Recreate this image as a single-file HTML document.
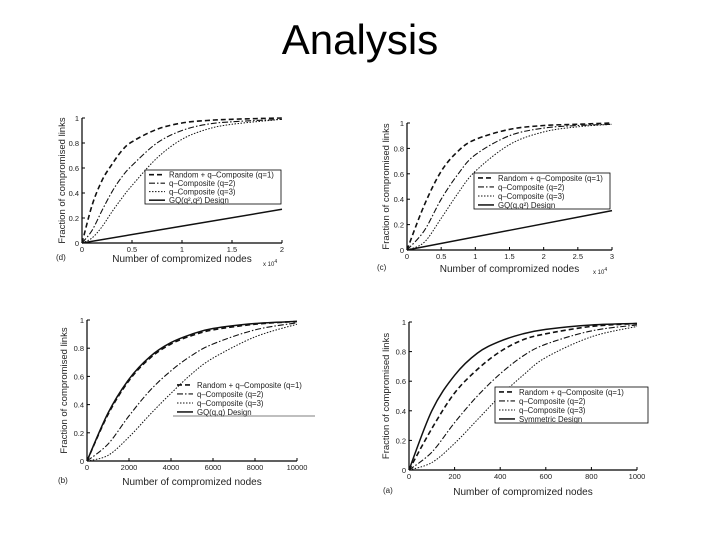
<!DOCTYPE html>
<html><head><meta charset="utf-8"><style>
html,body{margin:0;padding:0;background:#fff;}
#wrap{position:relative;width:720px;height:540px;overflow:hidden;font-family:"Liberation Sans",sans-serif;}
#title{position:absolute;left:0;width:720px;top:16px;text-align:center;font-size:42px;color:#000;}
svg{position:absolute;left:0;top:0;}
</style></head><body>
<div id="wrap">
<div id="title">Analysis</div>
<svg id="svg" width="720" height="540"></svg>
</div>
<script>
// ---- data: chart (d) top-left ----
const dX = [0,0.1,0.2,0.3,0.4,0.5,0.75,1,1.25,1.5,2];
const dQ1 = [0,0.3,0.5,0.63,0.74,0.81,0.91,0.96,0.98,0.99,1.0];
const dQ2 = [0,0.1,0.26,0.41,0.53,0.62,0.8,0.9,0.95,0.97,0.99];
const dQ3 = [0,0.04,0.13,0.25,0.36,0.46,0.68,0.83,0.91,0.95,0.99];
const dDesX = [0,2];
const dDes = [0,0.27];
const dTicks = ["0","0.5","1","1.5","2"];
// ---- data: chart (c) top-right ----
const cX = [0,0.25,0.5,0.75,1,1.5,2,2.5,3];
const cQ1 = [0,0.35,0.62,0.78,0.87,0.95,0.98,0.99,1];
const cQ2 = [0,0.15,0.4,0.6,0.75,0.9,0.96,0.98,0.99];
const cQ3 = [0,0.06,0.25,0.45,0.62,0.83,0.93,0.97,0.99];
const cDesX = [0,3];
const cDes = [0,0.31];
const cTicks = ["0","0.5","1","1.5","2","2.5","3"];
// ---- data: chart (b) bottom-left ----
const bX = [0,1000,2000,3000,4000,5000,6000,8000,10000];
const bQ1 = [0,0.33,0.57,0.73,0.83,0.89,0.93,0.97,0.99];
const bQ2 = [0,0.12,0.32,0.5,0.64,0.75,0.83,0.93,0.98];
const bQ3 = [0,0.04,0.17,0.33,0.48,0.62,0.73,0.88,0.97];
const bDes = [0,0.34,0.58,0.74,0.84,0.9,0.94,0.975,0.99];
const bTicks = ["0","2000","4000","6000","8000","10000"];
// ---- data: chart (a) bottom-right ----
const aX = [0,100,200,300,400,500,600,800,1000];
const aQ1 = [0,0.28,0.52,0.68,0.8,0.88,0.92,0.97,0.99];
const aQ2 = [0,0.12,0.32,0.5,0.65,0.77,0.85,0.94,0.98];
const aQ3 = [0,0.05,0.18,0.34,0.5,0.64,0.76,0.9,0.97];
const aDes = [0,0.4,0.64,0.79,0.87,0.92,0.95,0.98,0.99];
const aTicks = ["0","200","400","600","800","1000"];
const yTicks = ["0","0.2","0.4","0.6","0.8","1"];

const svg = document.getElementById('svg');
const NS = 'http://www.w3.org/2000/svg';
function mk(tag, attrs, name){
  const e = document.createElementNS(NS, tag);
  for (const k in attrs) e.setAttribute(k, attrs[k]);
  
  
  svg.appendChild(e); return e;
}
function txt(x,y,s,size,name,anchor,extra){
  const t = mk('text', Object.assign({x:x,y:y,'font-size':size,'text-anchor':anchor||'start','font-family':'Liberation Sans, sans-serif',fill:'#222'}, extra||{}), name);
  t.textContent = s; return t;
}
function smooth(p){
  let d = 'M'+p[0][0].toFixed(1)+','+p[0][1].toFixed(1);
  for (let i=0;i<p.length-1;i++){
    const p0=p[i-1]||p[i], p1=p[i], p2=p[i+1], p3=p[i+2]||p2;
    const c1=[p1[0]+(p2[0]-p0[0])/6, p1[1]+(p2[1]-p0[1])/6];
    const c2=[p2[0]-(p3[0]-p1[0])/6, p2[1]-(p3[1]-p1[1])/6];
    d+=' C'+c1[0].toFixed(1)+','+c1[1].toFixed(1)+' '+c2[0].toFixed(1)+','+c2[1].toFixed(1)+' '+p2[0].toFixed(1)+','+p2[1].toFixed(1);
  }
  return d;
}
const styles = {
  q1:{dash:'5,3',w:1.6},
  q2:{dash:'6,2,1.5,2',w:1.1},
  q3:{dash:'1.5,1.5',w:1},
  des:{dash:'',w:1.5}
};
function chart(cfg){
  const {L,R,T,B,xmax,ticks,series,letter,legend,legendLabels,legendStyle,xlab,ylabX,exp} = cfg;
  const sx = v => L + (R-L)*v/xmax;
  const sy = v => B - (B-T)*v;
  mk('line',{x1:L,y1:T,x2:L,y2:B,stroke:'#000','stroke-width':1.2}, letter+'-y-axis');
  mk('line',{x1:L,y1:B,x2:R,y2:B,stroke:'#000','stroke-width':1.2}, letter+'-x-axis');
  ticks.forEach((t,i)=>{
    const v = xmax*i/(ticks.length-1); const x = sx(v);
    mk('line',{x1:x,y1:B,x2:x,y2:B-3,stroke:'#000','stroke-width':1}, letter+'-x-tick');
    txt(x,B+9,t,7.5,letter+'-x-tick-label','middle');
  });
  yTicks.forEach((t,i)=>{
    const v = i/(yTicks.length-1); const y = sy(v);
    mk('line',{x1:L,y1:y,x2:L+3,y2:y,stroke:'#000','stroke-width':1}, letter+'-y-tick');
    txt(L-3,y+3,t,7.5,letter+'-y-tick-label','end');
  });
  series.forEach(s=>{
    const p = s.y.map((v,i)=>[sx(s.x[i]), sy(v)]);
    const st = styles[s.k];
    mk('path',{d:smooth(p),fill:'none',stroke:'#111','stroke-width':st.w,'stroke-dasharray':st.dash,'stroke-linejoin':'round'}, letter+'-series-'+s.k);
  });
  txt((L+R)/2, cfg.xlabY, xlab, 10, letter+'-x-axis-title','middle');
  const yl = txt(ylabX,(T+B)/2,'Fraction of compromised links',9.5,letter+'-y-axis-title','middle');
  yl.setAttribute('transform','rotate(-90 '+ylabX+' '+((T+B)/2)+')');
  txt(cfg.letX, cfg.xlabY-2, '('+letter+')', 8, letter+'-panel-label','start');
  if (exp) { const e = txt(exp[0],exp[1],'x 10',6,letter+'-x-exponent','start'); const s = document.createElementNS(NS,'tspan'); s.setAttribute('dy','-3'); s.setAttribute('font-size','5'); s.textContent='4'; e.appendChild(s); }
  const [lx,ly,lw,lh,boxed] = legend;
  if (boxed) mk('rect',{x:lx,y:ly,width:lw,height:lh,fill:'#fff',stroke:'#000','stroke-width':0.8}, letter+'-legend-box');
  else mk('line',{x1:lx,y1:ly+lh,x2:lx+lw,y2:ly+lh,stroke:'#555','stroke-width':0.8}, letter+'-legend-rule');
  const step = lh/4;
  legendStyle.forEach((k,i)=>{
    const y = ly + step*(i+0.55);
    const st = styles[k];
    mk('line',{x1:lx+4,y1:y,x2:lx+20,y2:y,stroke:'#111','stroke-width':st.w,'stroke-dasharray':st.dash}, letter+'-legend-swatch');
    txt(lx+24,y+3,legendLabels[i],7.8,letter+'-legend-entry','start');
  });
}
const lab = ['Random + q\u2013Composite (q=1)','q\u2013Composite (q=2)','q\u2013Composite (q=3)'];
chart({L:82,R:282,T:118,B:243,xmax:2,ticks:dTicks,letter:'d',
  series:[{x:dX,y:dQ1,k:'q1'},{x:dX,y:dQ2,k:'q2'},{x:dX,y:dQ3,k:'q3'},{x:dDesX,y:dDes,k:'des'}],
  legend:[145,170,136,34,true],legendLabels:lab.concat(['GQ(q\u00b2,q\u00b2) Design']),legendStyle:['q1','q2','q3','des'],
  xlab:'Number of compromized nodes',xlabY:262,ylabX:65,letX:56,exp:[263,266]});
chart({L:407,R:612,T:123,B:250,xmax:3,ticks:cTicks,letter:'c',
  series:[{x:cX,y:cQ1,k:'q1'},{x:cX,y:cQ2,k:'q2'},{x:cX,y:cQ3,k:'q3'},{x:cDesX,y:cDes,k:'des'}],
  legend:[474,173,136,36,true],legendLabels:lab.concat(['GQ(q,q\u00b2) Design']),legendStyle:['q1','q2','q3','des'],
  xlab:'Number of compromized nodes',xlabY:272,ylabX:389,letX:377,exp:[593,274]});
chart({L:87,R:297,T:320,B:461,xmax:10000,ticks:bTicks,letter:'b',
  series:[{x:bX,y:bQ1,k:'q1'},{x:bX,y:bQ2,k:'q2'},{x:bX,y:bQ3,k:'q3'},{x:bX,y:bDes,k:'des'}],
  legend:[173,380,142,36,false],legendLabels:lab.concat(['GQ(q,q) Design']),legendStyle:['q1','q2','q3','des'],
  xlab:'Number of compromized nodes',xlabY:485,ylabX:67,letX:58});
chart({L:409,R:637,T:322,B:470,xmax:1000,ticks:aTicks,letter:'a',
  series:[{x:aX,y:aQ1,k:'q1'},{x:aX,y:aQ2,k:'q2'},{x:aX,y:aQ3,k:'q3'},{x:aX,y:aDes,k:'des'}],
  legend:[495,387,153,36,true],legendLabels:lab.concat(['Symmetric Design']),legendStyle:['q1','q2','q3','des'],
  xlab:'Number of compromized nodes',xlabY:495,ylabX:389,letX:383});
</script>
</body></html>
